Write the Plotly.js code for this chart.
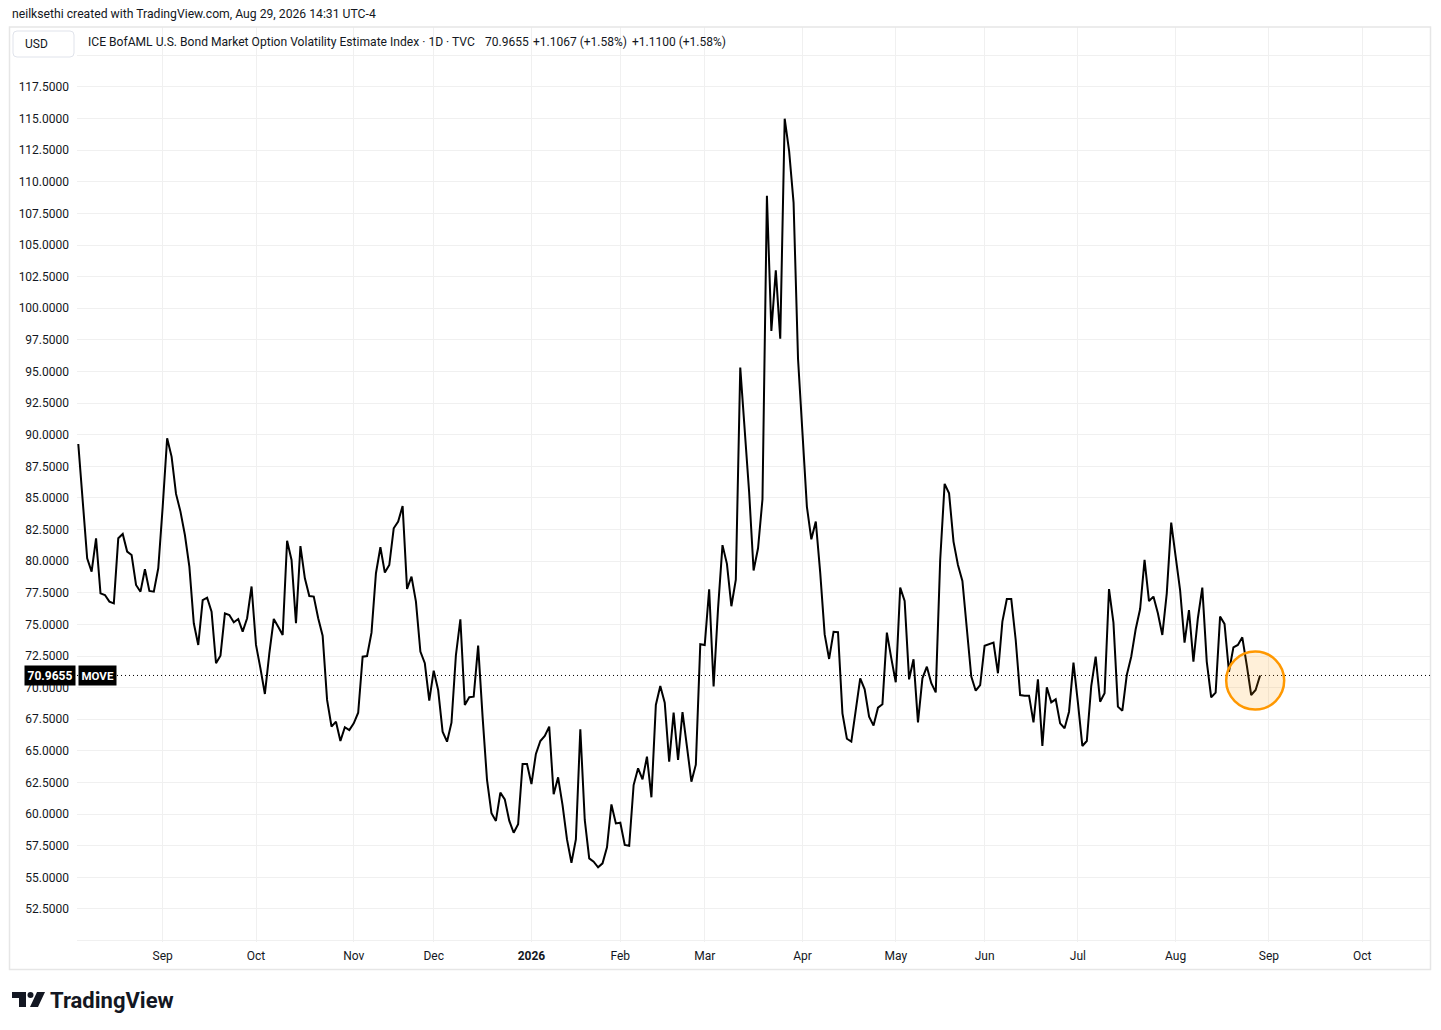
<!DOCTYPE html>
<html>
<head>
<meta charset="utf-8">
<script src="https://cdn.plot.ly/plotly-3.0.1.min.js"></script>
<style>
html,body{margin:0;padding:0;background:#fff;}
#chart{width:1441px;height:1030px;}
</style>
</head>
<body>
<div id="chart"></div>
<script>
// ---- data (daily closes, MOVE index, trading-day order) ----
const moveValues = [
89.27, 84.5, 80.23, 79.17, 81.81, 77.46, 77.33, 76.80, 76.67, 81.81,
82.15, 80.76, 80.49, 78.12, 77.59, 79.36, 77.65, 77.59, 79.44, 84.31,
89.72, 88.27, 85.32, 83.92, 82.07, 79.57, 75.09, 73.38, 76.93, 77.12,
76.01, 71.93, 72.53, 75.88, 75.75, 75.17, 75.43, 74.43, 75.49, 78.0,
73.38, 71.53, 69.5, 72.72, 75.43,
74.82, 74.17, 81.62, 80.10, 75.09, 81.20, 78.65, 77.25, 77.2, 75.49,
74.11, 69.03, 66.92, 67.31, 65.78, 66.87, 66.65, 67.18, 68.02, 72.45,
72.5, 74.35, 79.05, 81.1, 79.1, 79.70, 82.60, 83.13, 84.37, 77.81,
78.78, 76.80, 72.85, 71.93, 68.97, 71.35, 69.82, 66.52, 65.73, 67.23,
72.58, 75.41, 68.63, 69.24, 69.29, 73.32,
67.71, 62.70, 60.07, 59.46, 61.70, 61.17, 59.48, 58.53, 59.2, 63.97,
63.97, 62.38, 64.76, 65.78, 66.18, 66.92, 61.57, 62.91, 60.72, 58.0,
56.16, 58.0, 66.71, 59.54, 56.5, 56.24, 55.80, 56.11, 57.38, 60.77,
59.27, 59.32, 57.56, 57.5, 62.3, 63.62, 62.75, 64.54, 61.33, 68.63,
70.13, 68.81, 64.14, 68.02, 64.28,
68.07, 65.33, 62.57, 63.91, 73.44, 73.37, 77.78, 70.09, 76.26, 81.27,
79.79, 76.44, 78.55, 95.31, 90.55, 85.43, 79.26, 81.02, 84.90, 108.89,
98.20, 103.00, 97.60, 114.99, 112.42, 108.36, 96.01, 90.37, 84.30, 81.73,
83.14, 79.08, 74.21, 72.27, 74.42, 74.39, 67.97, 65.96,
65.73, 68.23, 70.74, 69.87, 67.71, 67.0, 68.42, 68.69, 74.35, 72.32,
70.43, 77.91, 76.85, 70.66, 72.24, 67.26, 70.74, 71.66, 70.35, 69.63,
80.10, 86.11, 85.37, 81.55, 79.70, 78.44, 74.82, 70.87, 69.76, 70.21,
73.32, 73.43, 73.56, 71.14, 75.22, 77.01, 77.01, 73.77, 69.42, 69.37,
69.37, 67.26, 70.66, 65.39, 70.03, 68.84, 69.08,
67.18, 66.79, 68.1, 71.98, 68.81, 65.39, 65.78, 70.13, 72.45, 68.89,
69.56, 77.80, 75.14, 68.50, 68.18, 71.0, 72.45, 74.62, 76.22, 80.10,
76.85, 77.20, 75.88, 74.17, 77.46, 83.05, 80.36, 77.72, 73.56, 76.14,
72.06, 75.49, 77.91, 72.06, 69.24, 69.61, 75.62, 75.04, 71.26, 73.19,
73.38, 73.98, 71.79, 69.42, 69.82, 70.9655
];
// month tick positions (trading-day index of first session of month)
const monthTickIdx = [19, 40, 62, 80, 102, 122, 141, 163, 184, 204, 225, 247, 268, 289];
const monthTickLabels = ['Sep','Oct','Nov','Dec','<b>2026</b>','Feb','Mar','Apr','May','Jun','Jul','Aug','Sep','Oct'];
const priceTickVals = [50, 52.5, 55, 57.5, 60, 62.5, 65, 67.5, 70, 72.5, 75, 77.5, 80, 82.5, 85, 87.5,
  90, 92.5, 95, 97.5, 100, 102.5, 105, 107.5, 110, 112.5, 115, 117.5, 120];
const lastValue = 70.9655;
const symbolName = 'MOVE';
const headerTitle = 'ICE BofAML U.S. Bond Market Option Volatility Estimate Index · 1D · TVC';
const headerValues = ['70.9655', '+1.1067 (+1.58%)', '+1.1100 (+1.58%)'];
const creditText = 'neilksethi created with TradingView.com, Aug 29, 2026 14:31 UTC-4';

// ---- layout geometry ----
const W = 1441, H = 1030, ML = 77, MR = 11, MT = 27, MB = 88;
const PW = W - ML - MR, PH = H - MT - MB;
const px = x => (x - ML) / PW;
const py = y => (H - MB - y) / PH;
const TXT = '#131722';
const FONT = 'Roboto, "Liberation Sans", Arial, sans-serif';

const xIdx = moveValues.map((v, i) => i);
const n = moveValues.length;

const trace = {
  type: 'scatter', mode: 'lines',
  x: xIdx, y: moveValues,
  line: {color: '#000000', width: 2},
  hoverinfo: 'skip', cliponaxis: true
};

function rrect(x0, y0, x1, y1, r) {
  const X0 = px(x0), X1 = px(x1), Y0 = py(y0), Y1 = py(y1);
  const rx = r / PW, ry = r / PH;
  return `M ${X0 + rx} ${Y0} L ${X1 - rx} ${Y0} Q ${X1} ${Y0} ${X1} ${Y0 - ry} L ${X1} ${Y1 + ry} Q ${X1} ${Y1} ${X1 - rx} ${Y1} L ${X0 + rx} ${Y1} Q ${X0} ${Y1} ${X0} ${Y1 + ry} L ${X0} ${Y0 - ry} Q ${X0} ${Y0} ${X0 + rx} ${Y0} Z`;
}
function poly(pts) {
  return 'M ' + pts.map(p => `${px(p[0])} ${py(p[1])}`).join(' L ') + ' Z';
}

const shapes = [
  // outer frame
  {type: 'rect', xref: 'paper', yref: 'paper', x0: px(9.5), x1: px(1430.5), y0: py(969.5), y1: py(27),
   line: {color: '#e6e6e6', width: 1.5}, fillcolor: 'rgba(0,0,0,0)', layer: 'above'},
  // USD box
  {type: 'path', xref: 'paper', yref: 'paper', path: rrect(13, 31, 74, 57, 4),
   line: {color: '#e0e3eb', width: 1}, fillcolor: '#ffffff', layer: 'above'},
  // last price dotted line
  {type: 'line', xref: 'paper', yref: 'y', x0: 0, x1: 1, y0: lastValue, y1: lastValue,
   line: {color: '#000000', width: 1, dash: '1px,3px'}, layer: 'above'},
  // highlight circle around latest readings
  {type: 'circle', xref: 'x', yref: 'y', xsizemode: 'pixel', ysizemode: 'pixel',
   xanchor: n - 1 - 1.1, yanchor: lastValue - 0.4, x0: -29, x1: 29, y0: -29, y1: 29,
   fillcolor: 'rgba(255,152,0,0.15)', line: {color: '#FF9800', width: 2.5}, layer: 'above'},
  // TradingView logo
  {type: 'path', xref: 'paper', yref: 'paper', path: poly([[12,992],[26,992],[26,1007],[19,1007],[19,998],[12,998]]),
   fillcolor: '#131722', line: {width: 0}},
  {type: 'circle', xref: 'paper', yref: 'paper', x0: px(27.5), x1: px(33.5), y0: py(998), y1: py(992),
   fillcolor: '#131722', line: {width: 0}},
  {type: 'path', xref: 'paper', yref: 'paper', path: poly([[37,992],[45,992],[38,1007],[30,1007]]),
   fillcolor: '#131722', line: {width: 0}}
];

const annotations = [
  {xref: 'paper', yref: 'paper', x: px(10), y: py(14), xanchor: 'left', yanchor: 'middle',
   text: creditText, showarrow: false, font: {size: 12.2, color: TXT, family: FONT}},
  {xref: 'paper', yref: 'paper', x: px(23), y: py(44), xanchor: 'left', yanchor: 'middle',
   text: 'USD', showarrow: false, font: {size: 12, color: TXT, family: FONT}},
  {xref: 'paper', yref: 'paper', x: px(86), y: py(42), xanchor: 'left', yanchor: 'middle',
   text: headerTitle, showarrow: false, font: {size: 12.1, color: TXT, family: FONT}},
  {xref: 'paper', yref: 'paper', x: px(483), y: py(42), xanchor: 'left', yanchor: 'middle',
   text: headerValues[0], showarrow: false, font: {size: 12, color: TXT, family: FONT}},
  {xref: 'paper', yref: 'paper', x: px(531), y: py(42), xanchor: 'left', yanchor: 'middle',
   text: headerValues[1], showarrow: false, font: {size: 12, color: TXT, family: FONT}},
  {xref: 'paper', yref: 'paper', x: px(630), y: py(42), xanchor: 'left', yanchor: 'middle',
   text: headerValues[2], showarrow: false, font: {size: 12, color: TXT, family: FONT}},
  // price label on scale
  {xref: 'paper', yref: 'y', x: px(76), y: lastValue, xanchor: 'right', yanchor: 'middle',
   text: '<b>' + lastValue.toFixed(4) + '</b>', showarrow: false, bgcolor: '#000000', borderpad: 2.5,
   font: {size: 12, color: '#ffffff', family: FONT}},
  {xref: 'paper', yref: 'y', x: px(77.5), y: lastValue, xanchor: 'left', yanchor: 'middle',
   text: '<b>' + symbolName + '</b>', showarrow: false, bgcolor: '#000000', borderpad: 2.5,
   font: {size: 11.5, color: '#ffffff', family: FONT}},
  // TradingView wordmark
  {xref: 'paper', yref: 'paper', x: px(48), y: py(1000), xanchor: 'left', yanchor: 'middle',
   text: '<b>TradingView</b>', showarrow: false, font: {size: 22, color: TXT, family: FONT}}
];

const layout = {
  width: W, height: H,
  margin: {l: ML, r: MR, t: MT, b: MB, pad: 0},
  paper_bgcolor: '#ffffff', plot_bgcolor: '#ffffff',
  showlegend: false,
  font: {family: FONT, color: TXT, size: 12},
  xaxis: {
    range: [-0.29, 304.25], tickmode: 'array', tickvals: monthTickIdx, ticktext: monthTickLabels,
    showgrid: true, gridcolor: '#f0f0f0', gridwidth: 1, zeroline: false, showline: false,
    ticks: '', ticklabelstandoff: 5, tickfont: {size: 12, color: TXT, family: FONT}, fixedrange: true
  },
  yaxis: {
    range: [49.89, 122.24], tickmode: 'array', tickvals: priceTickVals,
    ticktext: priceTickVals.map(v => (v === 50 || v === 120) ? '' : v.toFixed(4)),
    showgrid: true, gridcolor: '#f0f0f0', gridwidth: 1, zeroline: false, showline: false,
    ticks: '', ticklabelstandoff: 7, tickfont: {size: 12, color: TXT, family: FONT}, fixedrange: true
  },
  shapes: shapes,
  annotations: annotations,
  hovermode: false
};

Plotly.newPlot('chart', [trace], layout, {displayModeBar: false, staticPlot: true});
</script>
</body>
</html>
